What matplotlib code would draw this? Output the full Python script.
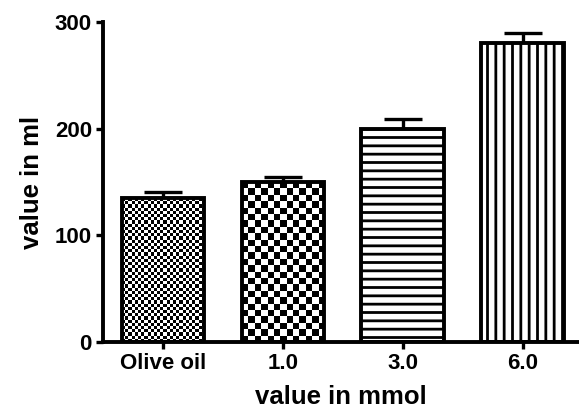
import numpy as np
import matplotlib
matplotlib.use("Agg")
import matplotlib.pyplot as plt

plt.rcParams['font.family'] = ['Liberation Sans', 'DejaVu Sans']
plt.rcParams['font.weight'] = 'bold'
plt.rcParams['hatch.linewidth'] = 2.0

groups = ["Olive oil", "1.0", "3.0", "6.0"]
means = [135, 150, 200, 280]
errors = [6, 5, 9, 10]

fig = plt.figure(figsize=(5.79, 4.16), dpi=100)
ax = fig.add_axes([0.178, 0.178, 0.82, 0.769])

x = np.arange(len(groups))
bars = ax.bar(x, means, width=0.69, color="white", edgecolor="black",
              linewidth=2.8, zorder=2)
ax.errorbar(x, means, yerr=[[0] * len(errors), errors], fmt="none",
            ecolor="black", elinewidth=2.4, capsize=14, capthick=2.4, zorder=1)

ax.set_xlim(-0.5, 3.46)
ax.set_ylim(0, 300)

# checkerboard fills for first two bars, line hatches for the rest
def checker(bar, n):
    bar.set_facecolor("none")
    bx, bw, bh = bar.get_x(), bar.get_width(), bar.get_height()
    (x0, y0), (x1, y1) = ax.transData.transform([(bx, 0), (bx + bw, bh)])
    cell = (x1 - x0) / n
    ny = int(round((y1 - y0) / cell))
    img = (np.add.outer(np.arange(ny), np.arange(n)) % 2)
    im = ax.imshow(img, cmap="gray", extent=[bx, bx + bw, 0, bh],
                   interpolation="nearest", aspect="auto", zorder=1.5)
    im.set_clip_path(bar)

checker(bars[0], 26)
checker(bars[1], 13)
bars[2].set_hatch("--")
bars[3].set_hatch("||")

ax.set_xlim(-0.5, 3.46)
ax.set_ylim(0, 300)
ax.set_yticks([0, 100, 200, 300])
ax.set_xticks(x)
ax.set_xticklabels(groups)
ax.spines["top"].set_visible(False)
ax.spines["right"].set_visible(False)
ax.spines["left"].set_linewidth(2.8)
ax.spines["bottom"].set_linewidth(2.8)
ax.tick_params(width=2.4, length=5, labelsize=16, pad=3)
ax.set_xlabel("value in mmol", fontsize=18.5, fontweight="bold", labelpad=8)
ax.set_ylabel("value in ml", fontsize=18.5, fontweight="bold", labelpad=8)

fig.savefig("out.png", dpi=100)
